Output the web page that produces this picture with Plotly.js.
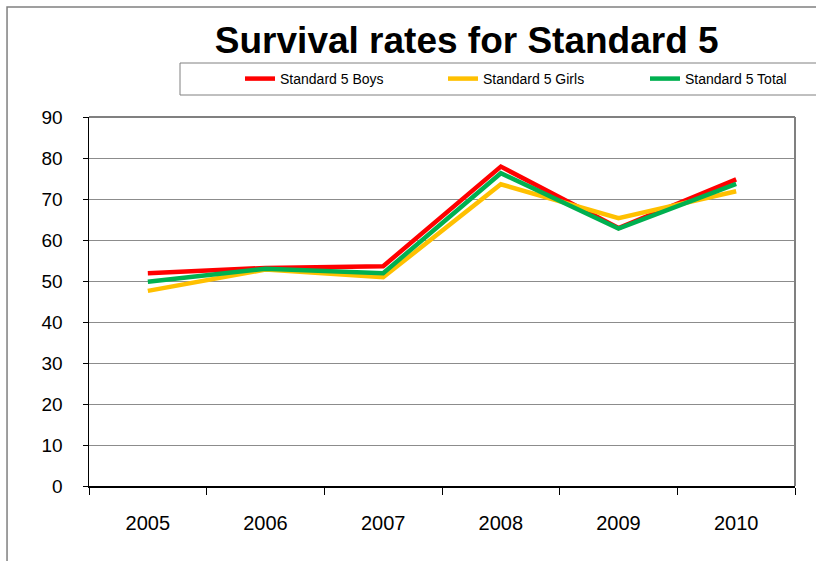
<!DOCTYPE html>
<html>
<head>
<meta charset="utf-8">
<script src="https://cdn.plot.ly/plotly-3.0.1.min.js"></script>
<style>html,body{margin:0;padding:0;background:#fff;}#chart{width:816px;height:561px;}</style>
</head>
<body>
<div id="chart"></div>
<script>
const years = ["2005", "2006", "2007", "2008", "2009", "2010"];
const boys = [51.9, 53.2, 53.6, 77.9, 62.9, 74.8];
const girls = [47.6, 52.8, 50.9, 73.6, 65.3, 71.9];
const total = [49.8, 53.0, 51.9, 76.3, 62.8, 73.7];
const seriesNames = ["Standard 5 Boys", "Standard 5 Girls", "Standard 5 Total"];
const seriesColors = ["#FF0000", "#FFC000", "#00B050"];
const yTicks = [0, 10, 20, 30, 40, 50, 60, 70, 80, 90];

const FONT = "Liberation Sans, Arial, sans-serif";
const legendIds = ["legend", "legend2", "legend3"];
const data = [boys, girls, total].map((vals, i) => ({
  x: years, y: vals, type: "scatter", mode: "lines", name: seriesNames[i],
  legend: legendIds[i],
  line: {color: seriesColors[i], width: 4.5}
}));

function leg(xp) {
  return {orientation: "h", x: xp, xanchor: "left", y: 1.103, yanchor: "middle",
          bgcolor: "rgba(0,0,0,0)", borderwidth: 0,
          font: {size: 14, family: FONT, color: "#000"}};
}

const layout = {
  width: 816, height: 561,
  margin: {l: 89, r: 21, t: 117, b: 75},
  paper_bgcolor: "#fff", plot_bgcolor: "#fff",
  font: {family: FONT, color: "#000"},
  title: {text: "<b>Survival rates for Standard 5</b>", font: {size: 37, family: FONT, color: "#000"},
          x: 0.572, xanchor: "center", xref: "container", y: 1 - 40/561, yanchor: "middle", yref: "container"},
  showlegend: true,
  legend: leg(0.2139),
  legend2: leg(0.5014),
  legend3: leg(0.7875),
  xaxis: {type: "category", range: [-0.5, 5.5], tickson: "boundaries", ticks: "outside", ticklen: 7, tickcolor: "#000",
          showline: true, linecolor: "#000", linewidth: 1.5, showgrid: false, zeroline: false,
          tickfont: {size: 20, family: FONT}, ticklabelstandoff: 18, fixedrange: true},
  yaxis: {range: [0, 90], tickvals: yTicks, ticktext: yTicks.map(String), ticks: "outside", ticklen: 5,
          tickcolor: "#000", showline: true, linecolor: "#000", linewidth: 1.5,
          showgrid: true, gridcolor: "#8c8c8c", gridwidth: 1, zeroline: false,
          tickfont: {size: 19, family: FONT}, ticklabelstandoff: 16, fixedrange: true},
  shapes: [
    {type: "line", xref: "paper", yref: "paper", x0: 0, x1: 1, y0: 1, y1: 1, line: {color: "#808080", width: 2}},
    {type: "line", xref: "paper", yref: "paper", x0: 1, x1: 1, y0: 0, y1: 1, line: {color: "#808080", width: 2}},
    {type: "rect", xref: "paper", yref: "paper", x0: 0.1289, x1: 1.06, y0: 1.0596, y1: 1.1463, line: {color: "#808080", width: 1}},
    {type: "rect", xref: "paper", yref: "paper", x0: -0.1161, x1: 1.1, y0: -0.3, y1: 1.2981, line: {color: "#808080", width: 1.5}}
  ]
};

Plotly.newPlot("chart", data, layout, {displayModeBar: false, staticPlot: true});
</script>
</body>
</html>
